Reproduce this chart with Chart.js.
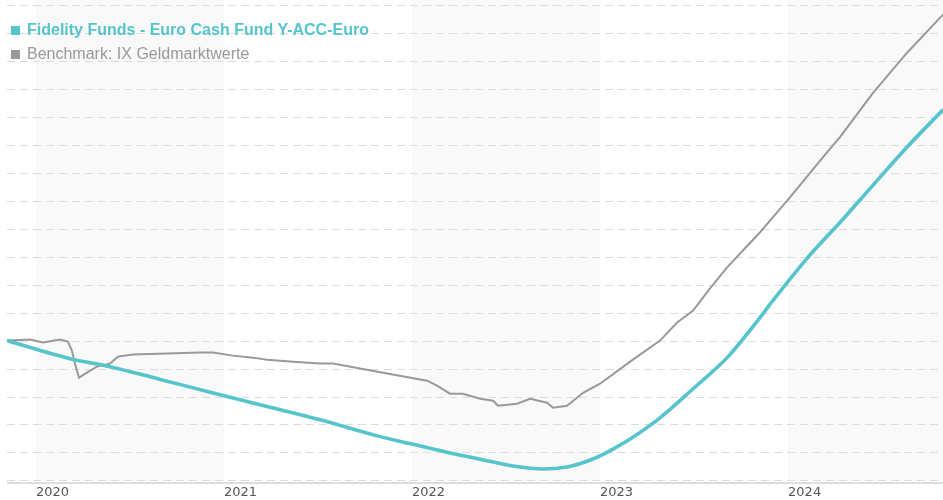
<!DOCTYPE html>
<html>
<head>
<meta charset="utf-8">
<script src="https://cdn.jsdelivr.net/npm/chart.js@4/dist/chart.umd.min.js"></script>
<style>
  html, body { margin: 0; padding: 0; background: #fff; overflow: hidden; }
  #wrap { position: relative; width: 943px; height: 500px; overflow: hidden; }
  canvas { position: absolute; left: 0; top: 0; }
  .leg { position: absolute; left: 11px; font-family: "Liberation Sans", Arial, sans-serif; font-size: 16px; line-height: 16px; white-space: nowrap; }
  .leg i { display: inline-block; width: 9px; height: 9px; margin-right: 7px; vertical-align: 0px; }
  #leg1 { top: 22px; color: #56c4cc; font-weight: bold; }
  #leg1 i { background: #56c4cc; }
  #leg2 { top: 46px; color: #999; }
  #leg2 i { background: #999; }
</style>
</head>
<body>
<div id="wrap">
  <canvas id="c" width="943" height="504"></canvas>
  <div class="leg" id="leg1"><i></i>Fidelity Funds - Euro Cash Fund Y-ACC-Euro</div>
  <div class="leg" id="leg2"><i></i>Benchmark: IX Geldmarktwerte</div>
</div>
<script>
// Time in fractional years, values in % performance since start
const yearTicks = [2020, 2021, 2022, 2023, 2024];
const shadedYears = [2020, 2022, 2024];

const fundX = [2019.846, 2020.181, 2020.394, 2020.660, 2020.979, 2021.245, 2021.511, 2021.814, 2021.989, 2022.202, 2022.362, 2022.537, 2022.697, 2022.824, 2022.920, 2023.000, 2023.080, 2023.160, 2023.319, 2023.495, 2023.676, 2023.851, 2023.920, 2024.101, 2024.277, 2024.452, 2024.633, 2024.824];
const fundY = [0.000, -0.323, -0.466, -0.694, -0.968, -1.193, -1.417, -1.704, -1.842, -2.009, -2.120, -2.242, -2.296, -2.260, -2.170, -2.062, -1.919, -1.760, -1.381, -0.861, -0.305, 0.412, 0.717, 1.471, 2.116, 2.780, 3.461, 4.125];

const benchX = [2019.846, 2019.968, 2020.037, 2020.128, 2020.170, 2020.191, 2020.207, 2020.229, 2020.271, 2020.324, 2020.394, 2020.436, 2020.516, 2020.697, 2020.872, 2020.941, 2021.048, 2021.154, 2021.229, 2021.367, 2021.511, 2021.580, 2021.846, 2022.080, 2022.133, 2022.202, 2022.271, 2022.362, 2022.431, 2022.457, 2022.559, 2022.628, 2022.718, 2022.750, 2022.824, 2022.910, 2023.000, 2023.160, 2023.319, 2023.410, 2023.495, 2023.585, 2023.676, 2023.761, 2023.851, 2023.920, 2024.011, 2024.186, 2024.277, 2024.452, 2024.633, 2024.824];
const benchY = [0.000, 0.018, -0.036, 0.018, -0.018, -0.179, -0.412, -0.664, -0.574, -0.466, -0.412, -0.287, -0.251, -0.233, -0.215, -0.215, -0.269, -0.305, -0.341, -0.377, -0.412, -0.412, -0.574, -0.717, -0.807, -0.950, -0.950, -1.040, -1.076, -1.166, -1.130, -1.040, -1.112, -1.202, -1.166, -0.933, -0.771, -0.377, 0.000, 0.323, 0.538, 0.933, 1.309, 1.614, 1.937, 2.206, 2.565, 3.282, 3.641, 4.430, 5.147, 5.829];

const xMin = 2019.846, xMax = 2024.824;
const yMin = -2.5, yMax = 6.0, yStep = 0.5;

const fundData = fundX.map((x, i) => ({ x: x, y: fundY[i] }));
const benchData = benchX.map((x, i) => ({ x: x, y: benchY[i] }));

const bandPlugin = {
  id: 'bands',
  beforeDraw(chart) {
    const ctx = chart.ctx, xs = chart.scales.x, ys = chart.scales.y, area = chart.chartArea;
    ctx.save();
    ctx.fillStyle = '#f9f9f9';
    shadedYears.forEach(yr => {
      const l = Math.max(area.left, xs.getPixelForValue(yr));
      const r = Math.min(area.right, xs.getPixelForValue(yr + 1));
      if (r > l) ctx.fillRect(l, 0, r - l, area.bottom);
    });
    // dashed horizontal grid lines
    ctx.strokeStyle = '#dcdcdc';
    ctx.lineWidth = 1;
    ctx.setLineDash([8, 5]);
    ys.ticks.forEach(t => {
      const y = Math.round(ys.getPixelForValue(t.value)) + 0.5;
      ctx.beginPath();
      ctx.moveTo(area.left, y);
      ctx.lineTo(area.right, y);
      ctx.stroke();
    });
    ctx.setLineDash([]);
    ctx.strokeStyle = '#dddddd';
    ctx.lineWidth = 2;
    ctx.beginPath();
    ctx.moveTo(area.left, area.bottom + 2.5);
    ctx.lineTo(area.right, area.bottom + 2.5);
    ctx.stroke();
    ctx.restore();
  }
};

new Chart(document.getElementById('c'), {
  type: 'line',
  data: {
    datasets: [
      { label: 'Benchmark: IX Geldmarktwerte', data: benchData, borderColor: '#999999', borderWidth: 2, pointRadius: 0, tension: 0, order: 2 },
      { label: 'Fidelity Funds - Euro Cash Fund Y-ACC-Euro', data: fundData, borderColor: '#56c4cc', borderWidth: 3.6, pointRadius: 0, tension: 0.4, cubicInterpolationMode: 'monotone', order: 1 }
    ]
  },
  options: {
    responsive: false,
    animation: false,
    layout: { padding: { left: 7, top: 5, right: 0, bottom: 0 } },
    plugins: { legend: { display: false }, tooltip: { enabled: false } },
    scales: {
      x: {
        type: 'linear', min: xMin, max: xMax,
        afterBuildTicks: (axis) => { axis.ticks = yearTicks.map(v => ({ value: v })); },
        grid: { display: false, drawTicks: false },
        border: { display: false },
        ticks: { align: 'start', padding: 4, color: '#555', font: { family: 'DejaVu Sans', size: 13 }, maxRotation: 0, autoSkip: false, callback: v => String(v) }
      },
      y: {
        min: yMin, max: yMax,
        ticks: { display: false, stepSize: yStep },
        grid: { display: false, drawTicks: false },
        border: { display: false }
      }
    }
  },
  plugins: [bandPlugin]
});
</script>
</body>
</html>
